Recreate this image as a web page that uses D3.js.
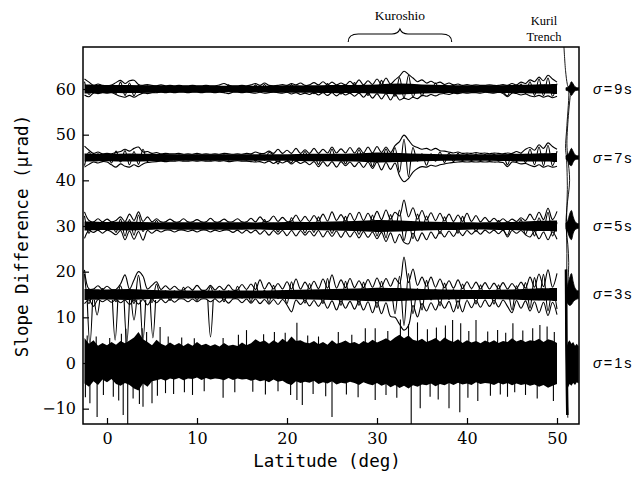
<!DOCTYPE html>
<html>
<head>
<meta charset="utf-8">
<script src="https://cdn.jsdelivr.net/npm/d3@7"></script>
<style>
  body { margin: 0; background: #fff; }
  svg { display: block; }
</style>
</head>
<body>
<div id="chart"></div>
<script>
// envelopes are read every 0.5 deg, starting at -2.5 deg
const LAT0 = -2.5, STEP = 0.5;
// core thickness read every 2.5 deg
const CORE_STEP = 2.5;

const bandOffsets = [0, 15, 30, 45, 60];
const bandLabels = ["1s", "3s", "5s", "7s", "9s"];
const xTicks = [0, 10, 20, 30, 40, 50];
const yTicks = [-10, 0, 10, 20, 30, 40, 50, 60];
const kuroshioRange = [26.8, 38.3];

// sigma = 9s
const up9 = [2.2,1.5,0.8,1.1,0.8,0.7,0.9,1.4,1.9,1.2,
  1.8,1.9,1.0,0.8,1.0,0.8,0.7,0.9,0.7,0.8,
  0.7,0.8,0.7,0.7,0.8,0.7,0.7,0.8,0.7,0.7,
  0.9,1.2,0.8,0.7,0.7,0.8,0.7,0.9,1.2,0.8,
  1.3,0.8,0.7,0.8,1.0,0.8,1.2,0.9,1.3,0.8,
  0.9,1.4,0.9,1.6,0.9,1.5,0.9,1.3,0.9,1.7,
  0.9,2.0,0.9,1.8,1.0,2.2,1.0,2.4,1.1,2.0,
  2.8,3.9,3.2,2.4,1.6,2.0,1.3,1.7,1.2,1.5,
  1.0,1.3,0.9,1.1,0.8,1.0,0.8,0.9,0.8,0.8,
  0.9,0.8,0.8,1.0,0.8,1.2,0.9,1.5,1.2,2.0,
  1.6,2.6,1.8,3.0,2.2,1.5];
const dn9 = [1.3,1.7,0.9,1.0,0.8,0.9,0.8,1.2,1.6,1.8,
  1.4,1.8,1.3,0.9,1.0,0.8,0.8,0.7,0.8,0.7,
  0.8,0.7,0.7,0.8,0.7,0.7,0.8,0.7,0.7,0.8,
  0.7,0.8,1.0,0.7,0.7,0.8,0.7,0.8,0.9,0.7,
  0.9,0.8,0.7,0.8,0.9,0.7,1.1,0.8,1.2,0.9,
  1.2,0.8,1.3,0.8,1.4,0.8,1.5,0.8,1.3,0.9,
  1.6,0.9,1.8,0.9,2.0,1.0,2.2,1.0,2.4,1.1,
  2.4,2.0,2.3,1.8,2.1,1.4,1.6,1.2,1.5,1.1,
  1.0,1.2,0.9,1.0,0.8,0.9,0.8,0.8,0.9,0.7,
  0.8,0.9,0.7,1.0,1.7,0.9,1.0,1.3,1.1,1.5,
  1.7,1.4,1.8,1.5,1.9,1.6];
const mid9 = [1.6,-1.2,0.5,-0.6,0.4,-0.5,0.6,-1.0,1.5,-1.4,
  1.3,-1.5,0.8,-0.6,0.7,-0.5,0.4,-0.5,0.4,-0.4,
  0.5,-0.4,0.5,-0.4,0.4,-0.5,0.4,-0.4,0.5,-0.4,
  0.6,-0.7,0.9,-0.5,0.4,-0.5,0.5,-0.6,0.9,-0.6,
  1.0,-0.5,0.5,-0.6,0.5,-0.5,1.0,-0.5,0.5,-0.7,
  0.5,-1.0,0.5,-0.5,1.2,-0.5,0.5,-1.1,0.6,-0.6,
  1.4,-0.6,0.6,-1.4,0.6,-0.6,1.9,-0.7,0.7,-1.6,
  2.5,-2.0,3.0,-1.8,0.8,-1.5,0.7,-0.7,1.3,-0.6,
  0.9,-0.8,0.8,-0.7,0.6,-0.6,0.6,-0.5,0.6,-0.5,
  0.6,-0.6,0.7,-0.5,-1.5,0.8,-0.7,1.1,-1.0,1.6,
  -1.4,2.2,-1.5,2.4,-1.6,1.2];
const core9 = [1.0,0.9,0.9,0.8,0.7,0.7,0.7,0.7,0.7,0.8,0.8,0.9,0.9,1.0,1.2,1.0,0.9,0.8,0.8,0.9,1.0,1.1];

// sigma = 7s
const up7 = [2.5,1.6,0.9,1.2,0.8,0.9,0.8,1.1,1.3,1.8,
  1.4,2.0,2.3,1.2,1.3,0.9,1.1,0.8,0.9,0.8,
  0.8,0.9,0.7,0.8,0.7,0.9,0.7,0.8,0.7,0.8,
  0.7,0.9,0.8,0.7,0.8,0.7,0.9,0.8,1.2,0.9,
  0.9,1.4,0.9,1.8,0.9,1.6,0.9,2.0,0.9,1.7,
  0.9,2.0,0.9,1.8,1.0,2.3,1.0,1.9,1.0,2.2,
  1.0,2.1,1.0,2.3,1.0,2.4,1.1,2.3,1.1,2.6,
  3.5,4.9,3.8,2.6,2.2,1.8,2.0,1.6,2.0,1.5,
  1.4,1.2,1.0,1.2,0.9,1.0,0.9,1.1,0.9,1.0,
  0.8,1.0,0.9,0.8,1.0,0.9,1.3,1.0,1.8,2.2,
  1.6,2.8,2.0,3.2,2.4,1.8];
const dn7 = [2.1,1.5,1.0,1.2,0.9,1.0,1.6,2.1,1.4,1.9,
  2.1,1.6,2.0,1.4,1.1,1.0,0.9,0.8,0.9,0.8,
  0.8,0.7,0.8,0.8,0.7,0.8,0.7,0.8,0.8,0.7,
  0.8,0.7,0.9,0.8,0.7,0.8,0.8,0.9,1.0,0.9,
  1.2,0.8,1.3,0.8,1.2,0.8,1.4,0.8,1.3,0.9,
  1.6,0.9,2.0,0.9,1.9,0.9,2.1,0.9,1.8,1.0,
  2.0,1.0,2.2,1.0,2.4,1.0,2.7,1.1,2.6,1.2,
  4.0,5.3,4.6,3.2,2.4,2.0,2.1,1.7,1.9,1.6,
  1.4,1.2,1.1,1.0,0.9,1.0,0.9,1.0,0.9,1.0,
  0.9,1.0,1.0,1.1,2.0,1.0,1.1,1.4,1.3,1.7,
  2.0,1.6,2.1,1.8,2.1,1.9];
const mid7 = [-1.8,1.2,-0.6,0.8,-0.6,0.7,-1.2,1.4,-1.0,1.5,
  -1.6,1.3,-1.5,1.8,-0.9,0.8,-0.6,0.6,-0.5,0.5,
  -0.5,0.6,-0.5,0.5,-0.5,0.6,-0.5,0.5,-0.6,0.5,
  -0.5,0.6,-0.6,0.5,-0.5,0.5,-0.6,0.6,-0.8,0.7,
  -0.6,1.1,0.5,-1.4,0.5,-0.5,-1.1,0.6,-0.5,1.3,
  -0.6,0.6,-1.5,0.6,-0.6,1.8,-0.6,0.6,-1.4,0.7,
  -0.7,1.7,-0.7,0.7,-2.0,0.8,-0.8,1.9,-0.8,2.2,
  -3.2,4.0,-4.2,2.2,-0.8,0.8,-1.7,0.8,-0.8,1.2,
  -1.1,1.0,-0.9,0.9,-0.7,0.8,-0.7,0.8,-0.7,0.7,
  -0.7,0.8,-0.8,0.6,-1.6,0.7,-0.9,0.8,-1.1,1.8,
  -1.6,2.3,-1.8,2.7,-1.8,1.4];
const core7 = [0.9,0.8,0.9,0.8,0.7,0.7,0.7,0.7,0.7,0.7,0.8,0.8,0.9,1.1,1.0,0.8,0.7,0.7,0.7,0.8,0.9,1.0];

// sigma = 5s
const up5 = [3.1,1.2,0.9,1.6,0.9,1.5,0.9,1.2,2.0,1.0,
  2.6,1.2,3.1,1.0,2.0,0.9,1.6,0.9,0.9,1.5,
  0.9,0.9,1.6,0.9,0.9,1.4,0.9,0.9,1.7,0.9,
  0.9,1.5,0.9,1.0,1.6,0.9,0.9,1.7,0.9,2.0,
  1.0,1.1,2.2,1.0,1.9,1.0,1.1,2.4,1.0,2.1,
  1.0,2.3,1.1,2.6,1.1,3.1,1.2,2.5,1.1,2.8,
  1.2,3.0,1.2,2.8,1.3,3.2,1.4,3.5,1.5,3.0,
  2.2,5.7,2.0,4.0,1.5,3.4,1.3,2.9,1.2,2.8,
  1.1,2.6,1.0,2.4,1.0,2.8,1.0,2.3,0.9,1.9,
  0.9,1.7,0.9,1.6,0.9,1.5,1.0,1.8,1.2,2.6,
  1.3,3.0,1.4,3.9,1.4,3.2];
const dn5 = [2.7,1.0,1.4,0.9,1.6,0.9,1.3,1.9,1.0,3.0,
  1.1,2.9,1.2,3.1,1.0,1.6,0.9,1.3,0.9,0.9,
  1.3,0.9,0.9,1.2,0.9,1.3,0.9,0.9,1.3,0.9,
  1.2,0.9,0.9,1.4,0.9,1.6,0.9,1.5,0.9,1.8,
  1.0,2.0,1.0,1.8,1.0,2.1,1.0,2.2,1.0,2.0,
  1.1,2.2,1.0,2.4,1.1,2.3,1.1,2.5,1.1,2.4,
  1.2,2.6,1.2,2.5,1.3,2.8,1.4,3.4,1.5,3.7,
  1.8,3.6,3.9,1.6,3.3,1.5,3.0,1.3,2.7,1.2,
  2.4,1.1,2.3,1.0,2.1,1.0,1.8,1.0,1.8,0.9,
  1.6,0.9,1.7,0.9,2.4,1.0,1.6,1.0,1.9,2.4,
  1.2,2.8,1.3,3.0,1.3,2.9];
const mid5 = [2.2,-1.6,0.6,-0.6,0.5,-0.6,0.6,-1.4,1.5,-2.2,
  1.4,-2.0,2.4,-1.2,0.6,-0.6,1.2,-0.5,0.5,-0.6,
  0.5,-0.5,0.6,-0.5,0.5,-0.5,0.6,-0.5,0.6,-0.5,
  0.5,-0.6,0.6,-0.5,0.6,-0.6,0.5,-0.6,0.6,-0.5,
  1.4,-0.6,0.6,-1.3,0.6,-0.6,1.8,-0.6,0.6,-1.5,
  0.7,-1.4,2.0,-0.7,0.7,-1.6,0.8,-0.7,2.1,-0.8,
  0.7,-1.8,0.8,-0.8,2.4,-2.2,0.9,-2.6,2.5,-1.0,
  3.5,-3.2,0.9,-2.8,2.6,-0.9,2.2,-0.8,0.8,-1.7,
  2.0,-0.7,0.7,-1.6,2.1,-0.6,0.6,-1.2,0.6,-0.6,
  0.6,-0.6,1.2,-0.6,-2.0,0.6,-0.6,1.4,-1.8,0.7,
  -2.2,1.8,-0.8,3.0,-2.2,0.8];
const core5 = [1.0,0.9,1.0,0.8,0.8,0.8,0.8,0.8,0.8,0.9,0.9,1.0,1.1,1.3,1.2,1.0,0.9,0.8,0.8,0.9,1.1,1.2];

// sigma = 3s
const up3 = [5.4,1.2,1.2,1.9,1.1,1.8,1.1,1.1,2.3,4.3,
  1.2,3.2,5.0,4.0,1.2,2.0,2.8,1.1,1.9,1.1,
  1.8,1.0,1.0,1.7,1.0,2.0,1.0,1.0,2.0,1.0,
  1.8,1.0,2.1,1.0,1.0,2.2,1.1,2.3,1.1,3.2,
  1.2,2.6,1.2,2.4,1.2,2.8,1.2,3.4,1.2,2.7,
  1.3,2.9,1.3,3.4,1.4,4.3,1.4,3.2,1.5,3.5,
  1.5,3.0,1.5,3.3,1.6,3.6,1.7,3.5,1.8,3.6,
  2.4,8.2,2.6,5.6,2.0,3.8,1.8,3.8,1.6,3.4,
  1.5,3.0,1.4,3.2,1.3,2.8,1.3,2.7,1.2,2.6,
  1.2,2.5,1.2,2.6,1.2,2.4,1.3,2.7,1.4,3.8,
  1.6,4.5,1.7,5.4,1.6,4.6];
const dn3 = [2.0,1.2,2.6,1.1,1.6,1.1,1.7,1.1,1.8,1.2,
  2.2,1.2,2.1,1.1,2.3,1.1,1.8,1.0,1.8,1.0,
  1.7,1.0,1.0,1.6,1.0,1.6,1.0,1.0,1.6,1.0,
  1.7,1.0,1.9,1.0,1.0,1.8,1.0,1.9,1.0,2.0,
  1.1,2.1,1.1,2.2,1.1,2.3,3.8,1.2,2.2,1.2,
  2.5,1.3,2.6,1.3,3.0,1.4,3.4,1.4,3.0,1.5,
  3.2,1.5,3.4,1.6,4.0,1.7,4.2,1.8,4.8,5.0,
  6.5,7.8,6.8,2.4,4.9,2.0,3.6,1.8,3.4,1.6,
  3.0,1.5,3.8,1.4,3.8,1.3,2.9,1.3,2.8,1.2,
  2.6,1.2,2.7,1.2,2.6,4.0,1.3,3.0,1.4,3.6,
  1.6,4.0,1.7,4.6,1.7,4.4];
const mid3 = [4.5,-2.0,0.8,-0.8,1.3,-0.8,0.8,-1.6,1.9,-0.8,
  0.8,-2.0,4.2,-0.9,0.9,-1.8,2.3,-0.8,0.8,-1.3,
  0.8,-0.8,1.6,-0.8,0.8,-1.3,0.8,-0.7,1.7,-0.8,
  0.8,-1.6,0.8,-0.8,1.8,-0.8,0.8,-1.6,2.6,-0.8,
  0.9,-1.8,2.0,-0.9,0.9,-2.0,2.8,-0.9,0.9,-1.9,
  2.4,-1.0,1.0,-2.0,3.5,-1.0,1.0,-2.4,2.9,-1.0,
  1.0,-2.4,2.7,-1.1,1.1,-2.9,2.9,-1.2,1.2,-4.2,
  4.0,-6.8,4.6,-4.2,1.3,-3.4,3.1,-1.2,1.2,-2.5,
  2.5,-1.1,1.1,-3.1,2.3,-1.0,1.0,-2.1,2.1,-1.0,
  0.9,-2.1,2.1,-0.9,0.9,-3.4,1.9,-1.0,2.6,-3.0,
  3.7,-1.2,4.4,-3.6,1.3,-3.2];
const core3 = [1.2,1.1,1.2,1.0,0.9,0.9,0.9,0.9,0.9,1.0,1.1,1.2,1.3,1.5,1.4,1.2,1.1,1.0,1.0,1.1,1.3,1.4];
// narrow downward excursions of the 3s tracks: [lat, value]
const dips3 = [[-1.9, 4.0], [-1.1, 10.5], [0.9, 5.0], [2.2, 4.4], [3.0, 9.4], [4.0, 5.0], [5.1, 5.5], [11.5, 5.7]];

// sigma = 1s, edges of the dense band
const top1 = [5.5,4.2,5.0,3.8,4.4,3.9,4.6,4.0,4.8,4.3,
  4.9,5.6,6.8,5.2,4.6,3.9,5.1,4.2,3.8,4.5,
  3.9,4.4,3.7,4.3,3.8,4.6,3.9,4.2,3.7,4.1,
  3.6,4.4,3.8,4.0,3.7,4.5,3.9,4.3,5.2,4.6,
  4.9,4.2,5.0,4.4,5.3,4.6,5.8,4.8,5.0,4.5,
  4.3,4.8,4.1,4.6,4.0,5.0,4.2,4.5,4.9,4.3,
  4.6,4.1,4.8,4.4,5.1,4.5,4.9,5.4,4.8,5.6,
  6.2,5.4,6.0,5.1,4.8,5.3,4.6,5.0,5.5,4.7,
  5.6,5.0,4.6,5.2,4.4,5.0,4.5,4.8,4.3,4.9,
  4.5,5.0,4.4,4.8,4.6,5.4,4.7,5.1,4.6,5.0,
  4.8,5.3,4.6,5.2,4.9,4.4];
const bot1 = [4.5,5.2,4.0,4.8,3.6,4.2,3.5,4.6,5.0,4.4,
  4.8,5.6,6.0,4.5,5.2,4.0,3.8,3.5,3.9,3.4,
  3.6,3.3,3.8,3.4,3.5,3.2,3.7,3.3,3.6,3.4,
  3.5,3.8,3.3,3.7,3.4,3.6,3.5,3.9,3.6,4.0,
  3.8,4.2,3.6,4.1,3.9,4.5,4.8,4.0,4.4,4.1,
  4.3,3.9,4.6,4.2,4.5,4.0,4.7,4.3,4.5,4.1,
  4.4,4.8,4.2,4.6,4.9,4.4,5.0,4.6,5.3,4.8,
  5.5,5.0,5.6,4.9,5.2,4.7,4.9,4.5,5.1,4.6,
  4.9,4.4,4.8,4.3,4.7,4.5,4.8,4.2,4.6,4.4,
  4.5,4.8,4.3,4.7,4.4,4.9,4.5,4.8,4.6,5.0,
  4.7,5.2,4.8,5.4,5.0,4.6];
const spikesUp1 = [[-2.2,6.0],[-1.2,5.8],[0.3,5.5],[1.6,6.4],[2.1,7.5],[3.9,7.6],[4.4,6.8],[5.9,7.9],
  [6.8,5.8],[8.3,5.6],[9.7,5.4],[12.9,5.5],[14.6,6.2],[15.5,7.2],[17.4,6.3],[18.6,6.8],[19.8,6.6],
  [21.1,8.8],[22.3,6.0],[23.5,5.8],[25.7,6.8],[27.2,6.2],[28.7,7.6],[29.8,7.6],[31.2,7.0],[32.6,9.5],
  [33.5,8.5],[34.5,8.9],[35.6,7.4],[36.6,7.8],[37.6,8.2],[38.4,9.4],[39.3,8.7],[40.2,7.0],[41.0,9.4],
  [42.3,6.9],[43.4,7.2],[44.3,6.6],[45.1,8.7],[46.2,7.1],[47.3,7.6],[48.1,8.3],[48.9,8.0],[49.7,6.8]];
const spikesDn1 = [[-2.4,-7.5],[-1.9,-8.8],[-1.1,-11.8],[-0.4,-7.0],[0.7,-7.4],[1.3,-8.2],[1.8,-11.4],
  [2.3,-13.6],[2.9,-7.8],[3.6,-9.0],[4.0,-9.6],[5.0,-8.8],[5.6,-7.2],[6.5,-6.6],[7.4,-6.8],[8.6,-6.4],
  [9.5,-7.0],[10.8,-6.2],[12.9,-7.6],[14.2,-6.4],[16.2,-6.3],[17.6,-6.9],[19.0,-6.2],[20.4,-7.0],
  [21.1,-8.1],[21.7,-9.2],[22.9,-6.8],[24.3,-7.3],[25.0,-11.8],[26.6,-6.9],[27.9,-7.5],[29.8,-8.1],
  [31.0,-7.0],[32.2,-7.6],[33.8,-13.6],[34.8,-9.9],[35.9,-7.4],[36.8,-8.0],[38.0,-9.9],[39.2,-10.8],
  [40.1,-7.6],[41.2,-8.3],[42.6,-7.2],[43.7,-6.9],[44.5,-7.4],[45.3,-6.4],[46.5,-7.0],[47.8,-7.8],[49.6,-8.3]];

// Kuril Trench segment, read every 0.2 deg
const kurilLat = [51.0, 51.2, 51.4, 51.6, 51.8, 52.0, 52.2, 52.4];
const kUp9 = [0.3,0.4,0.8,1.6,1.1,0.5,0.3,0.3], kDn9 = [0.3,0.4,0.7,1.4,0.9,0.4,0.3,0.3];
const kUp7 = [0.4,0.6,1.2,2.0,1.3,0.6,0.4,0.4], kDn7 = [0.4,0.8,1.6,1.8,1.0,0.5,0.4,0.4];
const kUp5 = [0.6,1.2,2.6,3.4,2.0,1.0,0.6,0.5], kDn5 = [0.6,1.4,2.5,3.0,1.6,0.8,0.6,0.5];
const kUp3 = [1.0,2.2,3.6,4.6,2.8,1.4,0.9,0.8], kDn3 = [1.2,2.0,2.4,2.2,1.6,1.2,1.0,0.9];
const kUp1 = [3.0,4.5,5.0,4.2,4.6,3.8,4.2,3.6], kDn1 = [4.0,5.5,4.6,5.0,4.4,4.8,4.2,4.5];
const trenchA = [[50.75,70],[50.95,64],[51.15,61],[51.3,60],[51.1,52],[50.95,47],[51.05,45],[51.15,38],
  [51.05,31],[51.1,24],[51.05,16],[51.0,8],[51.05,0],[51.15,-8],[51.2,-12]];
const trenchB = [[51.5,59],[51.3,55],[51.1,48],[51.2,45],[51.4,40],[51.1,34],[51.0,30],[51.2,26],[51.3,22],[51.2,17]];
const trenchBar = [[51.0,20.5],[51.02,15],[51.05,4],[51.1,-5],[51.15,-11.4]];

const W = 636, H = 479;
const x = d3.scaleLinear().domain([-2.667, 52.444]).range([83, 579]);
const y = d3.scaleLinear().domain([-13.36, 69.2]).range([424, 47]);

const svg = d3.select("#chart").append("svg")
  .attr("width", W).attr("height", H);

svg.append("clipPath").attr("id", "plot-clip")
  .append("rect")
  .attr("x", x.range()[0]).attr("y", y.range()[1])
  .attr("width", x.range()[1] - x.range()[0])
  .attr("height", y.range()[0] - y.range()[1]);

const plot = svg.append("g").attr("clip-path", "url(#plot-clip)");

const smooth = d3.curveCatmullRom.alpha(0.5);
const envLat = i => LAT0 + i * STEP;

const bands = [
  { off: bandOffsets[4], up: up9, dn: dn9, mid: mid9, core: core9, kUp: kUp9, kDn: kDn9 },
  { off: bandOffsets[3], up: up7, dn: dn7, mid: mid7, core: core7, kUp: kUp7, kDn: kDn7 },
  { off: bandOffsets[2], up: up5, dn: dn5, mid: mid5, core: core5, kUp: kUp5, kDn: kDn5 },
  { off: bandOffsets[1], up: up3, dn: dn3, mid: mid3, core: core3, kUp: kUp3, kDn: kDn3 }
];

bands.forEach(b => {
  const g = plot.append("g");
  // dense core of overlapping tracks
  g.append("path")
    .datum(b.core)
    .attr("d", d3.area()
      .x((d, i) => x(LAT0 + i * CORE_STEP))
      .y0(d => y(b.off - d))
      .y1(d => y(b.off + d))
      .curve(smooth))
    .attr("fill", "#000");
  // single tracks: upper, lower and one weaving through the core
  [[b.up, 1], [b.dn, -1], [b.mid, 1]].forEach(([vals, s]) => {
    g.append("path")
      .datum(vals)
      .attr("d", d3.line()
        .x((d, i) => x(envLat(i)))
        .y(d => y(b.off + s * d))
        .curve(smooth))
      .attr("fill", "none")
      .attr("stroke", "#000")
      .attr("stroke-width", 1.1);
  });
  // trench part
  g.append("path")
    .datum(kurilLat)
    .attr("d", d3.area()
      .x(d => x(d))
      .y0((d, i) => y(b.off - b.kDn[i]))
      .y1((d, i) => y(b.off + b.kUp[i]))
      .curve(smooth))
    .attr("fill", "#000")
    .attr("stroke", "#000")
    .attr("stroke-width", 0.8);
});

// 3s narrow dips
const dipLine = d3.line().x(d => x(d[0])).y(d => y(d[1])).curve(smooth);
plot.append("g").selectAll("path")
  .data(dips3)
  .join("path")
  .attr("d", d => dipLine([[d[0] - 0.3, bandOffsets[1] - 1.2], [d[0], d[1]], [d[0] + 0.3, bandOffsets[1] - 1.2]]))
  .attr("fill", "none")
  .attr("stroke", "#000")
  .attr("stroke-width", 1.1);

// 1s dense band
const g1 = plot.append("g");
g1.append("path")
  .datum(top1)
  .attr("d", d3.area()
    .x((d, i) => x(envLat(i)))
    .y0((d, i) => y(bandOffsets[0] - bot1[i]))
    .y1(d => y(bandOffsets[0] + d)))
  .attr("fill", "#000");
g1.append("g").selectAll("line")
  .data(spikesUp1.concat(spikesDn1))
  .join("line")
  .attr("x1", d => x(d[0])).attr("x2", d => x(d[0]))
  .attr("y1", y(bandOffsets[0])).attr("y2", d => y(d[1]))
  .attr("stroke", "#000")
  .attr("stroke-width", 1.1);
g1.append("path")
  .datum(kurilLat)
  .attr("d", d3.area()
    .x(d => x(d))
    .y0((d, i) => y(bandOffsets[0] - kDn1[i]))
    .y1((d, i) => y(bandOffsets[0] + kUp1[i])))
  .attr("fill", "#000");

// long trench lines
const tLine = d3.line().x(d => x(d[0])).y(d => y(d[1])).curve(smooth);
plot.append("path").datum(trenchA).attr("d", tLine)
  .attr("fill", "none").attr("stroke", "#000").attr("stroke-width", 0.9);
plot.append("path").datum(trenchB).attr("d", tLine)
  .attr("fill", "none").attr("stroke", "#000").attr("stroke-width", 0.9);
plot.append("path").datum(trenchBar).attr("d", tLine)
  .attr("fill", "none").attr("stroke", "#000").attr("stroke-width", 2.6);

// frame
svg.append("rect")
  .attr("x", x.range()[0]).attr("y", y.range()[1])
  .attr("width", x.range()[1] - x.range()[0])
  .attr("height", y.range()[0] - y.range()[1])
  .attr("fill", "none")
  .attr("stroke", "#000")
  .attr("stroke-width", 1.5);

// axes
const xAxis = svg.append("g")
  .attr("transform", `translate(0, ${y.range()[0]})`)
  .call(d3.axisBottom(x).tickValues(xTicks).tickSize(-6).tickPadding(9));
const yAxis = svg.append("g")
  .attr("transform", `translate(${x.range()[0]}, 0)`)
  .call(d3.axisLeft(y).tickValues(yTicks).tickSize(-6).tickPadding(7));
[xAxis, yAxis].forEach(a => {
  a.select(".domain").remove();
  a.selectAll("line").attr("stroke", "#000").attr("stroke-width", 1.2);
  a.selectAll("text")
    .attr("fill", "#000")
    .attr("font-family", "'DejaVu Serif', serif")
    .attr("font-size", 16);
});

svg.append("text")
  .attr("x", (x.range()[0] + x.range()[1]) / 2 - 4)
  .attr("y", 467)
  .attr("text-anchor", "middle")
  .attr("font-family", "'DejaVu Sans Mono', monospace")
  .attr("font-size", 17.5)
  .text("Latitude (deg)");

svg.append("text")
  .attr("transform", "translate(28, 236) rotate(-90)")
  .attr("text-anchor", "middle")
  .attr("font-family", "'DejaVu Sans Mono', monospace")
  .attr("font-size", 17.5)
  .text("Slope Difference (\u03bcrad)");

// sigma labels
const lab = svg.append("g").selectAll("text")
  .data(bandOffsets)
  .join("text")
  .attr("x", 593)
  .attr("y", d => y(d))
  .attr("dominant-baseline", "central")
  .attr("font-family", "'Liberation Sans', Arial, sans-serif")
  .attr("font-size", 14.5)
  .attr("letter-spacing", 2);
lab.append("tspan").attr("font-style", "italic").text("\u03c3");
lab.append("tspan").text((d, i) => "=" + bandLabels[i]);

// Kuroshio brace
const bx0 = x(kuroshioRange[0]), bx1 = x(kuroshioRange[1]), bm = (bx0 + bx1) / 2;
svg.append("path")
  .attr("d", `M${bx0},42 Q${bx0},34 ${bx0 + 10},34 L${bm - 8},34 Q${bm - 2},34 ${bm},29 Q${bm + 2},34 ${bm + 8},34 L${bx1 - 10},34 Q${bx1},34 ${bx1},42`)
  .attr("fill", "none")
  .attr("stroke", "#000")
  .attr("stroke-width", 1.1);
svg.append("text")
  .attr("x", bm).attr("y", 20)
  .attr("text-anchor", "middle")
  .attr("font-family", "'Liberation Serif', 'Times New Roman', serif")
  .attr("font-size", 13.5)
  .text("Kuroshio");

const ktFont = "'Liberation Serif', 'Times New Roman', serif";
svg.append("text")
  .attr("x", 544).attr("y", 25)
  .attr("text-anchor", "middle")
  .attr("font-family", ktFont)
  .attr("font-size", 12.5)
  .text("Kuril");
svg.append("text")
  .attr("x", 544).attr("y", 41)
  .attr("text-anchor", "middle")
  .attr("font-family", ktFont)
  .attr("font-size", 12.5)
  .text("Trench");
</script>
</body>
</html>
